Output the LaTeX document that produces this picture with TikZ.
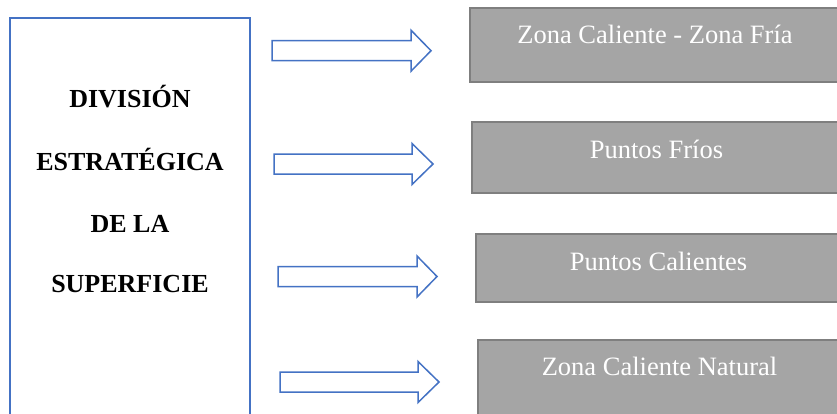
\documentclass[tikz,border=0pt]{standalone}
\usepackage{fontspec}
\setmainfont{Liberation Serif}
\definecolor{wblue}{HTML}{4472C4}
\definecolor{gfill}{HTML}{A5A5A5}
\definecolor{gedge}{HTML}{7F7F7F}
\newcommand{\mybarrow}[5]{% name, x start, x head base, x tip, y center
  \draw[barrow] (#2,#5-10) -- (#3,#5-10) -- (#3,#5-20.5) -- (#4,#5) -- (#3,#5+20.5) -- (#3,#5+10) -- (#2,#5+10) -- cycle;
  \coordinate (#1) at (#4,#5);}
\begin{document}
\begin{tikzpicture}[x=1pt,y=-1pt,
  barrow/.style={draw=wblue,line width=1.5pt,fill=white,line join=miter},
  mainbox/.style={draw=wblue,line width=2pt,fill=white,inner sep=0pt},
  greybox/.style={draw=gedge,line width=2pt,fill=gfill,inner sep=0pt},
  maintext/.style={anchor=base,font=\fontsize{26}{30}\selectfont\bfseries,text=black,inner sep=0pt},
  greytext/.style={anchor=base,font=\fontsize{26.5}{30}\selectfont,text=white,inner sep=0pt}]
\useasboundingbox (0,0) rectangle (837,413);
\clip (0,0) rectangle (837,413);
\fill[white] (0,0) rectangle (837,413);
% left box
\node[mainbox,minimum width=240pt,minimum height=432pt] (main) at (130,234) {};
\node[maintext] (t1) at (130,107) {DIVISIÓN};
\node[maintext] (t2) at (130,170) {ESTRATÉGICA};
\node[maintext] (t3) at (130,232) {DE LA};
\node[maintext] (t4) at (130,292) {SUPERFICIE};
% arrows
\mybarrow{a1}{272}{411}{431}{50.7}
\mybarrow{a2}{274}{412}{433}{164}
\mybarrow{a3}{278}{417}{437}{276.5}
\mybarrow{a4}{280}{418}{439}{382}
% grey boxes
\node[greybox,minimum width=370pt,minimum height=74pt] (z1) at (655,45) {};
\node[greytext] (z1t) at (655,43.5) {Zona Caliente - Zona Fría};
\node[greybox,minimum width=369pt,minimum height=71pt] (z2) at (656.5,157.5) {};
\node[greytext] (z2t) at (656.5,158.3) {Puntos Fríos};
\node[greybox,minimum width=365pt,minimum height=68pt] (z3) at (658.5,268) {};
\node[greytext] (z3t) at (658.5,270) {Puntos Calientes};
\node[greybox,minimum width=363pt,minimum height=90pt] (z4) at (659.5,385) {};
\node[greytext] (z4t) at (659.5,375) {Zona Caliente Natural};
\end{tikzpicture}
\end{document}
